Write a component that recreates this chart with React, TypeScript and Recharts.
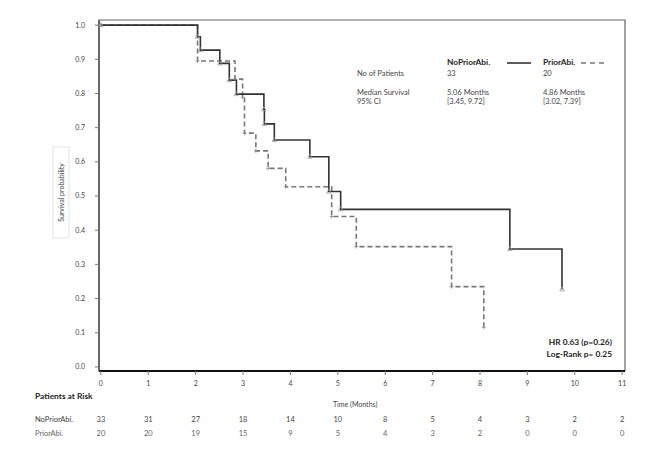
import React from "react";
import { LineChart, Line, XAxis, YAxis, ReferenceArea } from "recharts";

const timeTicks = [0, 1, 2, 3, 4, 5, 6, 7, 8, 9, 10, 11];
const yTicks = [0, 0.1, 0.2, 0.3, 0.4, 0.5, 0.6, 0.7, 0.8, 0.9, 1.0];
const riskNoPrior = [33, 31, 27, 18, 14, 10, 8, 5, 4, 3, 2, 2];
const riskPrior = [20, 20, 19, 15, 9, 5, 4, 3, 2, 0, 0, 0];

const noPriorTimes = [0, 2.04, 2.1, 2.51, 2.71, 2.86, 3.44, 3.45, 3.66, 4.41, 4.81, 5.06, 8.63, 9.73];
const noPriorSurv = [1.0, 0.966, 0.927, 0.888, 0.839, 0.798, 0.754, 0.711, 0.664, 0.615, 0.513, 0.461, 0.345, 0.227];
const priorTimes = [0, 2.04, 2.83, 2.99, 3.03, 3.27, 3.53, 3.9, 4.87, 5.39, 7.4, 8.08];
const priorSurv = [1.0, 0.895, 0.842, 0.789, 0.684, 0.632, 0.581, 0.527, 0.44, 0.352, 0.235, 0.116];

const noPriorData = noPriorTimes.map((t, i) => ({ t, s: noPriorSurv[i] }));
const priorData = priorTimes.map((t, i) => ({ t, s: priorSurv[i] }));

const FONT = "Lato, 'Open Sans', sans-serif";

const TriDot = (props: any) => {
  const { cx, cy, index } = props;
  if (cx == null || cy == null) return <g key={"td" + index} />;
  return (
    <path
      key={"td" + index}
      d={`M${cx},${cy - 2.5} L${cx + 2.2},${cy + 1.5} L${cx - 2.2},${cy + 1.5} Z`}
      fill="none"
      stroke="#999"
      strokeWidth={0.8}
    />
  );
};

const PlusDot = (props: any) => {
  const { cx, cy, index } = props;
  if (cx == null || cy == null) return <g key={"pd" + index} />;
  return (
    <path
      key={"pd" + index}
      d={`M${cx - 2},${cy} L${cx + 2},${cy} M${cx},${cy - 2} L${cx},${cy + 2}`}
      fill="none"
      stroke="#888"
      strokeWidth={0.8}
    />
  );
};

const XTick = (props: any) => {
  const { x, y, payload } = props;
  const i = timeTicks.indexOf(payload.value);
  return (
    <g>
      <text x={x} y={y} dy="0.71em" textAnchor="middle" fontSize={7} fill="#444" fontFamily={FONT}>
        {payload.value}
      </text>
      <text x={x} y={y + 40.5} textAnchor="middle" fontSize={7.5} fill="#444" fontFamily={FONT}>
        {riskNoPrior[i]}
      </text>
      <text x={x} y={y + 54.5} textAnchor="middle" fontSize={7.5} fill="#666" fontFamily={FONT}>
        {riskPrior[i]}
      </text>
    </g>
  );
};

export default function App() {
  return (
    <div style={{ position: "relative", width: 668, height: 466, background: "#fff" }}>
      <style>{`body{margin:0}`}</style>
      <LineChart width={668} height={466} margin={{ top: 20, right: 43, bottom: 65, left: 0 }}>
        <ReferenceArea
          x1={-0.04}
          x2={11.06}
          y1={-0.012}
          y2={1.015}
          fill="none"
          stroke="#666"
          strokeWidth={1.2}
          ifOverflow="visible"
        />
        <XAxis
          type="number"
          dataKey="t"
          domain={[-0.04, 11.06]}
          ticks={timeTicks}
          allowDataOverflow
          height={30}
          tickSize={4}
          tickMargin={6}
          stroke="#111"
          strokeWidth={2}
          tickLine={{ stroke: "#777", strokeWidth: 1 }}
          tick={<XTick />}
          interval={0}
        />
        <YAxis
          type="number"
          domain={[-0.012, 1.015]}
          ticks={yTicks}
          allowDataOverflow
          width={99}
          tickSize={4}
          tickMargin={10}
          stroke="#555"
          strokeWidth={1.5}
          tickLine={{ stroke: "#777", strokeWidth: 1 }}
          tick={{ fontSize: 7, fill: "#444", fontFamily: FONT }}
          tickFormatter={(v: number) => v.toFixed(1)}
          interval={0}
        />
        <Line
          data={priorData}
          dataKey="s"
          type="stepAfter"
          stroke="#777"
          strokeWidth={1.6}
          strokeDasharray="5 3"
          dot={<PlusDot />}
          activeDot={false}
          isAnimationActive={false}
        />
        <Line
          data={noPriorData}
          dataKey="s"
          type="stepAfter"
          stroke="#333"
          strokeWidth={1.6}
          dot={<TriDot />}
          activeDot={false}
          isAnimationActive={false}
        />
      </LineChart>
      <svg
        width={668}
        height={466}
        style={{ position: "absolute", left: 0, top: 0, pointerEvents: "none" }}
        fontFamily={FONT}
      >
        <rect x={53} y={147} width={16} height={91} fill="#fff" stroke="#ddd" strokeWidth={0.8} />
        <text
          x={61}
          y={192.5}
          transform="rotate(-90 61 192.5)"
          textAnchor="middle"
          dominantBaseline="central"
          fontSize={7}
          fill="#444"
        >
          Survival probability
        </text>

        <text x={447} y={65} fontSize={8.3} fontWeight="bold" fill="#222">NoPriorAbi.</text>
        <line x1={507} y1={63} x2={531} y2={63} stroke="#333" strokeWidth={1.6} />
        <text x={543} y={65} fontSize={8.3} fontWeight="bold" fill="#222">PriorAbi.</text>
        <line x1={581} y1={63} x2={604} y2={63} stroke="#777" strokeWidth={1.6} strokeDasharray="5 4" />

        <text x={357} y={76} fontSize={7.5} fill="#444">No of Patients</text>
        <text x={447} y={76} fontSize={7.5} fill="#444">33</text>
        <text x={543} y={76} fontSize={7.5} fill="#444">20</text>

        <text x={357} y={95} fontSize={7.5} fill="#444">Median Survival</text>
        <text x={357} y={104} fontSize={7.5} fill="#444">95% CI</text>
        <text x={447} y={95} fontSize={7.5} fill="#444">5.06 Months</text>
        <text x={447} y={104} fontSize={7.5} fill="#444">[3.45, 9.72]</text>
        <text x={543} y={95} fontSize={7.5} fill="#444">4.86 Months</text>
        <text x={543} y={104} fontSize={7.5} fill="#444">[3.02, 7.39]</text>

        <text x={612} y={345} textAnchor="end" fontSize={8.4} fontWeight="bold" fill="#222">HR 0.63 (p=0.26)</text>
        <text x={612} y={357} textAnchor="end" fontSize={8.4} fontWeight="bold" fill="#222">Log-Rank p= 0.25</text>

        <text x={35} y={399} fontSize={8.4} fontWeight="bold" fill="#222">Patients at Risk</text>
        <text x={333} y={407} fontSize={7} fill="#444">Time (Months)</text>
        <text x={35} y={421.5} fontSize={7.5} fill="#444">NoPriorAbi.</text>
        <text x={35} y={435.5} fontSize={7.5} fill="#666">PriorAbi.</text>
      </svg>
    </div>
  );
}
